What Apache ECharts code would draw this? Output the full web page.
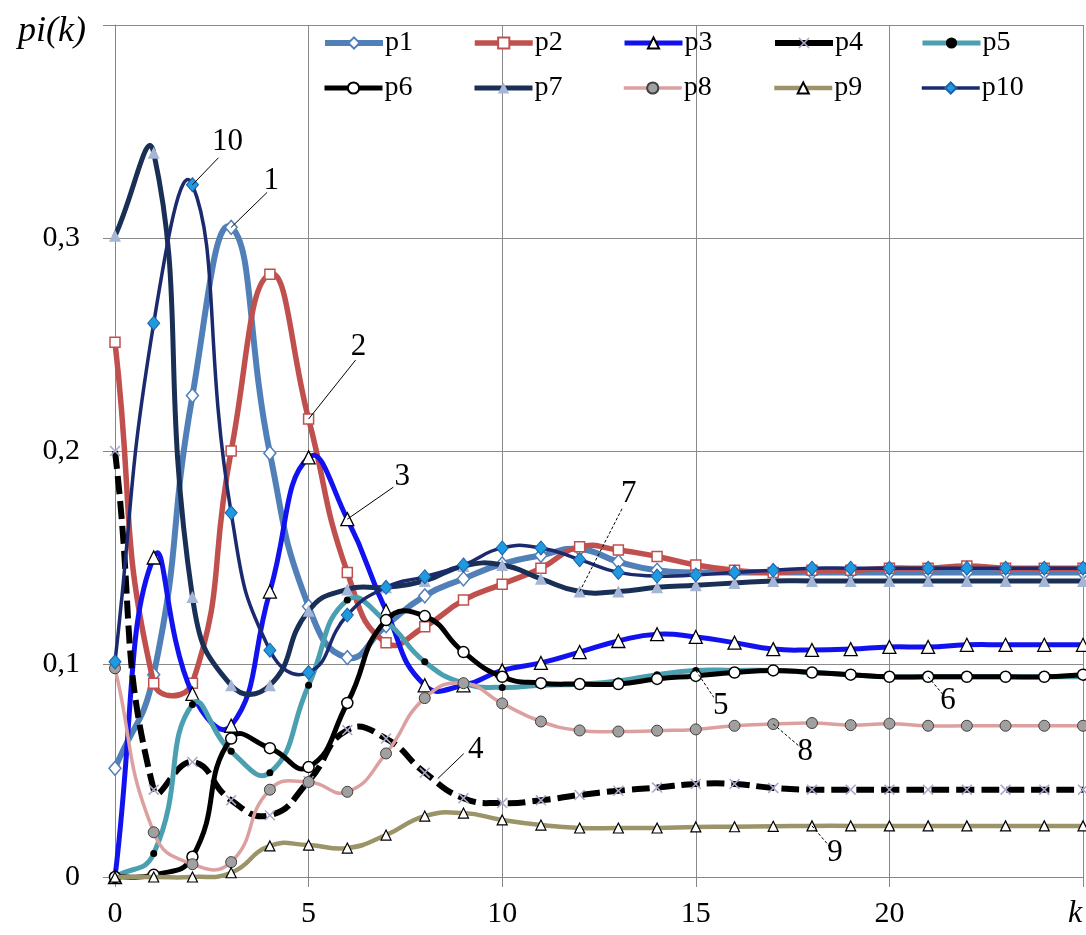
<!DOCTYPE html>
<html><head><meta charset="utf-8">
<script src="https://cdn.jsdelivr.net/npm/echarts@6/dist/echarts.min.js"></script>
<style>html,body{margin:0;padding:0;background:#fff}#c{width:1086px;height:935px}</style>
</head><body><div id="c"></div>
<script>
// k = 0..25
const kValues = [0,1,2,3,4,5,6,7,8,9,10,11,12,13,14,15,16,17,18,19,20,21,22,23,24,25];
const p1 = [0.051,0.095,0.226,0.305,0.199,0.127,0.103,0.118,0.132,0.140,0.147,0.151,0.154,0.148,0.144,0.143,0.143,0.143,0.143,0.143,0.143,0.143,0.143,0.143,0.143,0.143];
const p2 = [0.251,0.091,0.091,0.200,0.283,0.215,0.143,0.110,0.1175,0.130,0.1375,0.145,0.155,0.1535,0.1505,0.1465,0.144,0.143,0.144,0.144,0.145,0.145,0.146,0.145,0.145,0.145];
const p3 = [0,0.150,0.086,0.071,0.134,0.197,0.168,0.125,0.090,0.090,0.097,0.1005,0.1056,0.1108,0.114,0.1127,0.110,0.107,0.1066,0.107,0.108,0.108,0.109,0.109,0.109,0.109];
const p4 = [0.200,0.041,0.054,0.036,0.029,0.045,0.069,0.065,0.049,0.037,0.0347,0.036,0.0385,0.0405,0.042,0.0437,0.0437,0.0418,0.041,0.041,0.041,0.041,0.041,0.041,0.041,0.041];
const p5 = [0,0.011,0.081,0.059,0.049,0.090,0.130,0.120,0.101,0.091,0.089,0.090,0.0905,0.092,0.095,0.097,0.097,0.097,0.096,0.095,0.094,0.094,0.094,0.094,0.094,0.094];
const p6 = [0,0.001,0.0095,0.065,0.0605,0.0516,0.0817,0.1206,0.1225,0.1056,0.094,0.091,0.0906,0.0906,0.093,0.0944,0.096,0.097,0.096,0.095,0.094,0.094,0.094,0.094,0.094,0.095];
const p7 = [0.301,0.340,0.1315,0.090,0.090,0.125,0.135,0.136,0.139,0.146,0.1465,0.140,0.134,0.134,0.136,0.137,0.138,0.139,0.139,0.139,0.139,0.139,0.139,0.139,0.139,0.139];
const p8 = [0.098,0.021,0.006,0.007,0.041,0.0446,0.040,0.058,0.084,0.091,0.0815,0.073,0.0688,0.0683,0.0687,0.0693,0.071,0.0718,0.0723,0.0713,0.072,0.071,0.071,0.071,0.071,0.071];
const p9 = [0,0,0,0.002,0.0146,0.015,0.0136,0.0197,0.0286,0.030,0.0268,0.0244,0.023,0.023,0.023,0.0235,0.0236,0.0238,0.024,0.024,0.024,0.024,0.024,0.024,0.024,0.024];
const p10 = [0.101,0.260,0.325,0.171,0.1065,0.096,0.123,0.136,0.141,0.1465,0.1545,0.1545,0.149,0.143,0.1413,0.1418,0.143,0.144,0.145,0.145,0.145,0.145,0.145,0.145,0.145,0.145];

const seriesNames = ['p1','p2','p3','p4','p5','p6','p7','p8','p9','p10'];
const seriesData = [p1,p2,p3,p4,p5,p6,p7,p8,p9,p10];
const yTickLabels = {'0':'0','0.1':'0,1','0.2':'0,2','0.3':'0,3','0.4':''};
const xTickLabels = {'0':'0','5':'5','10':'10','15':'15','20':'20','25':''};

// annotation: label, series index, k
const annotLabels = ['10','1','2','3','7','4','5','6','8','9'];
const annotSeries = [9,0,1,2,6,3,4,5,7,8];
const annotK = [2,3,5,6,12,8,15,21,17,18];

const SERIF = "'Liberation Serif','Times New Roman',serif";
const X_PATH = 'path://M0,1L1,0L5,4L9,0L10,1L6,5L10,9L9,10L5,6L1,10L0,9L4,5Z';
const SMOOTH = 0.5;

const styles = [
  {color:'#5180B8', w:6,   sym:'diamond', size:[12,14], fill:'#fff', border:'#5180B8', bw:1.5},
  {color:'#C0504D', w:5.5, sym:'rect', size:10, fill:'#fff', border:'#C0504D', bw:1.5},
  {color:'#1212F0', w:5,   sym:'triangle', size:13, fill:'#fff', border:'#000', bw:1.3},
  {color:'#000000', w:6,   sym:X_PATH, size:11, fill:'#A8A8C8', border:'#A8A8C8', bw:0, dash:[18,7]},
  {color:'#4A9FB0', w:5,   sym:'circle', size:7, fill:'#000', border:'#000', bw:0},
  {color:'#000000', w:5,   sym:'circle', size:11, fill:'#fff', border:'#000', bw:1.5},
  {color:'#1A2F55', w:5,   sym:'triangle', size:12, fill:'#A5B5D5', border:'#A5B5D5', bw:0},
  {color:'#DDA0A0', w:3.5, sym:'circle', size:11, fill:'#A0A0A0', border:'#404040', bw:1},
  {color:'#9A9468', w:4.5, sym:'triangle', size:10, fill:'#fff', border:'#000', bw:1.2},
  {color:'#1B2A6E', w:3.5, sym:'diamond', size:[12,14], fill:'#1E9BE0', border:'#1F5FA8', bw:1}
];

// smooth curve through the data points (spreadsheet-style spline, no clamping)
function curvePath(api, values){
  const pts = kValues.map((k,j)=>api.coord([k, values[j]]));
  const n = pts.length;
  const cpIn = [], cpOut = [];
  for (let i=0;i<n;i++){
    const p = pts[i], prev = pts[Math.max(0,i-1)], next = pts[Math.min(n-1,i+1)];
    const vx = next[0]-prev[0], vy = next[1]-prev[1];
    const d0 = Math.hypot(p[0]-prev[0], p[1]-prev[1]);
    const d1 = Math.hypot(next[0]-p[0], next[1]-p[1]);
    const r = (d0+d1)>0 ? d1/(d0+d1) : 0.5;
    cpIn[i] = [p[0]-vx*SMOOTH*(1-r), p[1]-vy*SMOOTH*(1-r)];
    cpOut[i] = [p[0]+vx*SMOOTH*r, p[1]+vy*SMOOTH*r];
  }
  let d = 'M'+pts[0][0]+' '+pts[0][1];
  for (let i=0;i<n-1;i++){
    d += ' C'+cpOut[i][0]+' '+cpOut[i][1]+' '+cpIn[i+1][0]+' '+cpIn[i+1][1]+' '+pts[i+1][0]+' '+pts[i+1][1];
  }
  return d;
}

const series = [];
seriesNames.forEach((n,i)=>{
  const s = styles[i];
  const data = kValues.map((k,j)=>[k, seriesData[i][j]]);
  series.push({
    name:n+'_curve', type:'custom', silent:true, z:2+2*i, data:data,
    renderItem:(params, api)=>{
      if (params.dataIndex !== 0) return null;
      return {type:'path', shape:{pathData: curvePath(api, seriesData[i])},
        style:{fill:'none', stroke:s.color, lineWidth:s.w, lineDash: s.dash||null, lineJoin:'round', lineCap: s.dash?'butt':'round'}};
    }
  });
  series.push({
    name:n, type:'line', showAllSymbol:true, z:3+2*i, data:data,
    symbol:s.sym, symbolSize:s.size,
    lineStyle:{width:0, opacity:0},
    itemStyle:{color:s.fill, borderColor:s.border, borderWidth:s.bw},
    emphasis:{disabled:true}
  });
});

const legendLeft = [322,472,622,772,920];
const legendTop = [29,74];
const legends = seriesNames.map((n,i)=>({
  data:[n], left: legendLeft[i%5], top: legendTop[Math.floor(i/5)],
  itemWidth:58, itemHeight:14, padding:0, itemGap:0, selectedMode:false,
  lineStyle:{color:styles[i].color, width:Math.min(styles[i].w,6), type:'solid', opacity:1},
  textStyle:{fontFamily:SERIF, fontSize:28, color:'#000', padding:[0,0,0,-3]}
}));

const chart = echarts.init(document.getElementById('c'), null, {renderer:'canvas'});
chart.setOption({
  backgroundColor:'#fff',
  animation:false,
  legend: legends,
  grid:{left:115, right:3, top:25, bottom:58, containLabel:false},
  xAxis:{type:'value', min:0, max:25, interval:5,
    axisLine:{show:true, lineStyle:{color:'#868686', width:1}},
    axisTick:{show:true, inside:false, length:10, lineStyle:{color:'#868686'}},
    axisLabel:{fontFamily:SERIF, fontSize:30, color:'#000', margin:22,
      formatter:v=>xTickLabels[String(v)] ?? String(v)},
    splitLine:{show:true, lineStyle:{color:'#8a8a8a', width:1}}},
  yAxis:{type:'value', min:0, max:0.4, interval:0.1,
    axisLine:{show:true, lineStyle:{color:'#868686', width:1}},
    axisTick:{show:true, inside:false, length:12, lineStyle:{color:'#868686'}},
    axisLabel:{fontFamily:SERIF, fontSize:30, color:'#000', margin:35,
      formatter:v=>{const key=String(Math.round(v*10)/10); return yTickLabels[key] ?? key;}},
    splitLine:{show:true, lineStyle:{color:'#8a8a8a', width:1}}},
  series: series
});

// annotation leader offsets (pixels from the anchored data point)
const annotStart = [[0,0],[0,0],[0,0],[0,0],[0,0],[13,6],[0,0],[0,0],[0,0],[0,0]];
const annotEnd = [[26,-27],[36,-35],[47,-59],[46,-32],[43,-84],[39,-19],[18,27],[15,18],[27,23],[18,21]];
const annotText = [[35,-43],[40,-46],[50,-72],[55,-42],[49,-98],[51,-23],[25,35],[20,24],[32,28],[23,27]];
const annotDashed = [false,false,false,false,true,false,true,true,true,true];

const graphics = [];
annotLabels.forEach((lab,i)=>{
  const si = annotSeries[i], k = annotK[i];
  const p = chart.convertToPixel({gridIndex:0}, [k, seriesData[si][kValues.indexOf(k)]]);
  graphics.push({type:'line', z:100, silent:true,
    shape:{x1:p[0]+annotStart[i][0], y1:p[1]+annotStart[i][1], x2:p[0]+annotEnd[i][0], y2:p[1]+annotEnd[i][1]},
    style:{stroke:'#000', lineWidth:1, lineDash: annotDashed[i]?[3,2]:null}});
  graphics.push({type:'text', z:100, silent:true, x:p[0]+annotText[i][0], y:p[1]+annotText[i][1],
    style:{text:lab, font:'31px '+SERIF, fill:'#000', align:'center', verticalAlign:'middle'}});
});
graphics.push({type:'text', silent:true, x:52, y:32, style:{text:'pi(k)', font:'italic 36px '+SERIF, fill:'#000', align:'center', verticalAlign:'middle'}});
graphics.push({type:'text', silent:true, x:1075, y:914, style:{text:'k', font:'italic 32px '+SERIF, fill:'#000', align:'center', verticalAlign:'middle'}});
chart.setOption({graphic: graphics});
</script></body></html>
